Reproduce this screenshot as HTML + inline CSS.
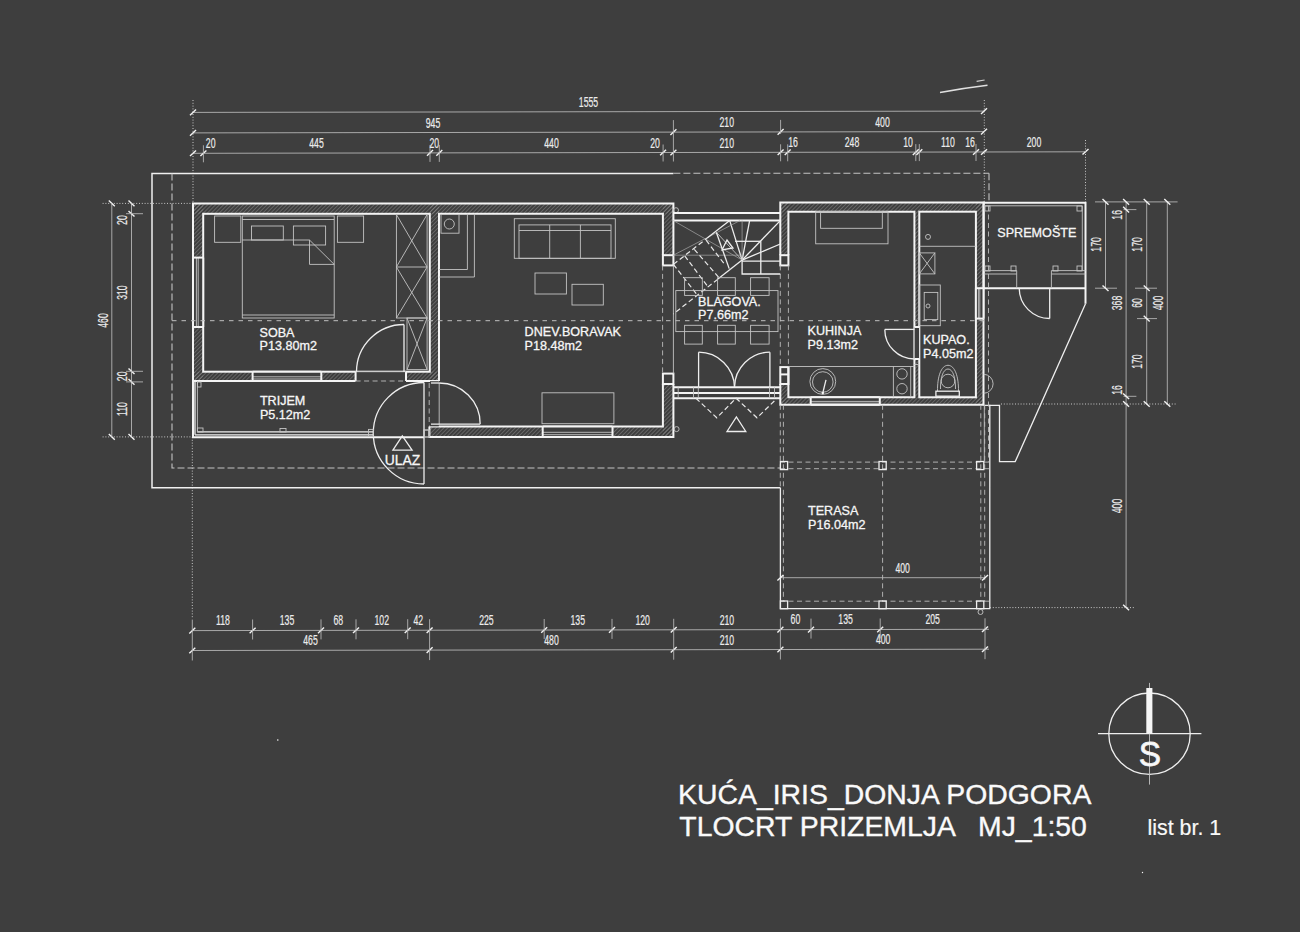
<!DOCTYPE html>
<html><head><meta charset="utf-8"><title>Tlocrt prizemlja</title><style>
html,body{margin:0;padding:0;background:#3e3e3e;}
svg{display:block;}
line,polyline,polygon,rect,path,circle{fill:none;}
.t{stroke:#c4c4c4;stroke-width:0.9;}
.t2{stroke:#a8a8a8;stroke-width:0.7;}
.w{stroke:#f4f4f4;stroke-width:2;}
.w1{stroke:#eeeeee;stroke-width:1.3;}
.w2{stroke:#f0f0f0;stroke-width:1.5;}
.d{stroke:#b4b4b4;stroke-width:0.9;}
.k{stroke:#f4f4f4;stroke-width:1.4;}
.ds{stroke:#c4c4c4;stroke-width:1.1;stroke-dasharray:7 3;}
.ds4{stroke:#c0c0c0;stroke-width:1;stroke-dasharray:4.5 5;}
.ds2{stroke:#bcbcbc;stroke-width:0.9;stroke-dasharray:5 3.5;}
.ds3{stroke:#e8e8e8;stroke-width:1.2;stroke-dasharray:5 3;}
.dt{stroke:#c8c8c8;stroke-width:1;stroke-dasharray:1 1.8;}
.scr{stroke:#e0e0e0;stroke-width:1.6;}
.scr2{stroke:#d0d0d0;stroke-width:1.2;}
.h{fill:url(#hatch);stroke:none;}
.bg{fill:#3e3e3e;stroke:none;}
.fill{fill:#f6f6f6;stroke:none;}
text{font-family:"Liberation Sans",sans-serif;fill:#fafafa;}
.dm{font-size:14.3px;text-anchor:middle;fill:#ececec;stroke:#ececec;stroke-width:0.2;}
.lb{font-size:12.6px;stroke:#f2f2f2;stroke-width:0.3;}
.lb2{font-size:13.9px;stroke:#f2f2f2;stroke-width:0.3;}
.ns{font-size:36px;stroke:#f2f2f2;stroke-width:0.8;}
.tt{font-size:28.4px;stroke:#fafafa;stroke-width:0.35;}
.ls{font-size:21.4px;stroke:#f2f2f2;stroke-width:0.2;}
</style></head>
<body><svg width="1300" height="932" viewBox="0 0 1300 932">
<defs><pattern id="hatch" patternUnits="userSpaceOnUse" width="2.8" height="2.8" patternTransform="rotate(45)">
<rect width="2.8" height="2.8" fill="#3e3e3e"/><line x1="0" y1="0" x2="0" y2="2.8" stroke="#a4a4a4" stroke-width="0.75"/></pattern></defs>
<rect width="1300" height="932" fill="#3e3e3e"/>
<line x1="193" y1="112.4" x2="984" y2="111.1" class="d"/>
<line x1="190" y1="115.2" x2="196" y2="109.6" class="k"/>
<line x1="981" y1="113.9" x2="987" y2="108.3" class="k"/>
<text class="dm" transform="translate(588.5,107) scale(0.61,1)">1555</text>
<line x1="193" y1="132.9" x2="984" y2="131.6" class="d"/>
<line x1="190" y1="135.7" x2="196" y2="130.1" class="k"/>
<line x1="670.4" y1="134.9" x2="676.4" y2="129.3" class="k"/>
<line x1="777.6" y1="134.7" x2="783.6" y2="129.1" class="k"/>
<line x1="981" y1="134.4" x2="987" y2="128.8" class="k"/>
<text class="dm" transform="translate(433,127.6) scale(0.61,1)">945</text>
<text class="dm" transform="translate(726.8,127.1) scale(0.61,1)">210</text>
<text class="dm" transform="translate(882.5,126.9) scale(0.61,1)">400</text>
<line x1="193" y1="153.3" x2="1085.5" y2="151.8" class="d"/>
<line x1="190" y1="156.1" x2="196" y2="150.5" class="k"/>
<line x1="200.4" y1="156.1" x2="206.4" y2="150.5" class="k"/>
<line x1="427" y1="155.7" x2="433" y2="150.1" class="k"/>
<line x1="436.3" y1="155.7" x2="442.3" y2="150.1" class="k"/>
<line x1="660.1" y1="155.3" x2="666.1" y2="149.7" class="k"/>
<line x1="670.4" y1="155.3" x2="676.4" y2="149.7" class="k"/>
<line x1="777.6" y1="155.1" x2="783.6" y2="149.5" class="k"/>
<line x1="784.7" y1="155.1" x2="790.7" y2="149.5" class="k"/>
<line x1="912.8" y1="154.9" x2="918.8" y2="149.3" class="k"/>
<line x1="916.3" y1="154.9" x2="922.3" y2="149.3" class="k"/>
<line x1="973" y1="154.8" x2="979" y2="149.2" class="k"/>
<line x1="981" y1="154.8" x2="987" y2="149.2" class="k"/>
<line x1="1082.5" y1="154.6" x2="1088.5" y2="149" class="k"/>
<line x1="203.4" y1="145.3" x2="203.4" y2="162.3" class="d"/>
<line x1="430" y1="144.9" x2="430" y2="161.9" class="d"/>
<line x1="439.3" y1="144.9" x2="439.3" y2="161.9" class="d"/>
<line x1="663.1" y1="144.5" x2="663.1" y2="161.5" class="d"/>
<line x1="780.6" y1="144.3" x2="780.6" y2="161.3" class="d"/>
<line x1="787.7" y1="144.3" x2="787.7" y2="161.3" class="d"/>
<line x1="915.8" y1="144.1" x2="915.8" y2="161.1" class="d"/>
<line x1="919.3" y1="144.1" x2="919.3" y2="161.1" class="d"/>
<line x1="976" y1="144" x2="976" y2="161" class="d"/>
<line x1="673.4" y1="120.1" x2="673.4" y2="161.5" class="d"/>
<line x1="780.6" y1="119.9" x2="780.6" y2="133.9" class="d"/>
<text class="dm" transform="translate(210.7,148.4) scale(0.61,1)">20</text>
<text class="dm" transform="translate(316.5,148.2) scale(0.61,1)">445</text>
<text class="dm" transform="translate(434.3,148) scale(0.61,1)">20</text>
<text class="dm" transform="translate(551.5,147.8) scale(0.61,1)">440</text>
<text class="dm" transform="translate(655,147.6) scale(0.61,1)">20</text>
<text class="dm" transform="translate(726.8,147.5) scale(0.61,1)">210</text>
<text class="dm" transform="translate(793,147.4) scale(0.61,1)">16</text>
<text class="dm" transform="translate(852,147.3) scale(0.61,1)">248</text>
<text class="dm" transform="translate(908,147.2) scale(0.61,1)">10</text>
<text class="dm" transform="translate(948,147.2) scale(0.61,1)">110</text>
<text class="dm" transform="translate(970,147.1) scale(0.61,1)">16</text>
<text class="dm" transform="translate(1034,147) scale(0.61,1)">200</text>
<line x1="193" y1="100" x2="193" y2="204" class="dt"/>
<line x1="984.3" y1="100" x2="984.3" y2="203" class="dt"/>
<line x1="1085.5" y1="140" x2="1085.5" y2="202" class="dt"/>
<path d="M940,92.5 Q965,88 987.5,85.3" class="scr"/>
<line x1="976.6" y1="81.4" x2="984.6" y2="80" class="scr2"/>
<line x1="111.8" y1="203.4" x2="111.8" y2="436.9" class="d"/>
<line x1="131.5" y1="203.4" x2="131.5" y2="436.9" class="d"/>
<line x1="108.8" y1="200.6" x2="114.8" y2="206.2" class="k"/>
<line x1="108.8" y1="434.1" x2="114.8" y2="439.7" class="k"/>
<line x1="128.5" y1="200.6" x2="134.5" y2="206.2" class="k"/>
<line x1="128.5" y1="210.9" x2="134.5" y2="216.5" class="k"/>
<line x1="128.5" y1="368.5" x2="134.5" y2="374.1" class="k"/>
<line x1="128.5" y1="379.1" x2="134.5" y2="384.7" class="k"/>
<line x1="128.5" y1="434.1" x2="134.5" y2="439.7" class="k"/>
<line x1="102.6" y1="203.4" x2="193" y2="203.4" class="dt"/>
<line x1="102.6" y1="436.9" x2="193" y2="436.9" class="dt"/>
<line x1="126" y1="213.7" x2="143" y2="213.7" class="d"/>
<line x1="126" y1="371.3" x2="143" y2="371.3" class="d"/>
<line x1="126" y1="381.9" x2="143" y2="381.9" class="d"/>
<text class="dm" transform="translate(107.5,320.5) rotate(-90) scale(0.61,1)">460</text>
<text class="dm" transform="translate(127.3,220.1) rotate(-90) scale(0.61,1)">20</text>
<text class="dm" transform="translate(127.3,292.6) rotate(-90) scale(0.61,1)">310</text>
<text class="dm" transform="translate(127.3,376.3) rotate(-90) scale(0.61,1)">20</text>
<text class="dm" transform="translate(127.3,409) rotate(-90) scale(0.61,1)">110</text>
<line x1="1105.5" y1="201.9" x2="1105.5" y2="288.2" class="d"/>
<line x1="1126.1" y1="201.9" x2="1126.1" y2="607.5" class="d"/>
<line x1="1123.1" y1="604.7" x2="1129.1" y2="610.3" class="k"/>
<text class="dm" transform="translate(1121.5,506) rotate(-90) scale(0.61,1)">400</text>
<line x1="1146.7" y1="201.9" x2="1146.7" y2="404" class="d"/>
<line x1="1167.3" y1="201.9" x2="1167.3" y2="404" class="d"/>
<line x1="1095" y1="201.9" x2="1177.6" y2="201.9" class="d"/>
<line x1="1095" y1="288.2" x2="1117" y2="288.2" class="d"/>
<line x1="1135" y1="288.2" x2="1157" y2="288.2" class="d"/>
<line x1="1123.5" y1="209.6" x2="1136.4" y2="209.6" class="d"/>
<line x1="1137" y1="318.6" x2="1157" y2="318.6" class="d"/>
<line x1="1123.5" y1="396.3" x2="1136.4" y2="396.3" class="d"/>
<line x1="1001" y1="404" x2="1177" y2="404" class="dt"/>
<line x1="1102.5" y1="199.1" x2="1108.5" y2="204.7" class="k"/>
<line x1="1123.1" y1="199.1" x2="1129.1" y2="204.7" class="k"/>
<line x1="1143.7" y1="199.1" x2="1149.7" y2="204.7" class="k"/>
<line x1="1164.3" y1="199.1" x2="1170.3" y2="204.7" class="k"/>
<line x1="1123.1" y1="206.8" x2="1129.1" y2="212.4" class="k"/>
<line x1="1102.5" y1="285.4" x2="1108.5" y2="291" class="k"/>
<line x1="1143.7" y1="285.4" x2="1149.7" y2="291" class="k"/>
<line x1="1143.7" y1="315.8" x2="1149.7" y2="321.4" class="k"/>
<line x1="1123.1" y1="393.5" x2="1129.1" y2="399.1" class="k"/>
<line x1="1123.1" y1="401.2" x2="1129.1" y2="406.8" class="k"/>
<line x1="1143.7" y1="401.2" x2="1149.7" y2="406.8" class="k"/>
<line x1="1164.3" y1="401.2" x2="1170.3" y2="406.8" class="k"/>
<text class="dm" transform="translate(1101,244.4) rotate(-90) scale(0.61,1)">170</text>
<text class="dm" transform="translate(1121.5,214.8) rotate(-90) scale(0.61,1)">16</text>
<text class="dm" transform="translate(1142,244.4) rotate(-90) scale(0.61,1)">170</text>
<text class="dm" transform="translate(1121.5,303) rotate(-90) scale(0.61,1)">368</text>
<text class="dm" transform="translate(1142,303) rotate(-90) scale(0.61,1)">60</text>
<text class="dm" transform="translate(1162.5,303) rotate(-90) scale(0.61,1)">400</text>
<text class="dm" transform="translate(1142,361.6) rotate(-90) scale(0.61,1)">170</text>
<text class="dm" transform="translate(1121.5,390) rotate(-90) scale(0.61,1)">16</text>
<line x1="192.3" y1="630.6" x2="989" y2="629.3" class="d"/>
<line x1="192.3" y1="650.5" x2="989" y2="649.2" class="d"/>
<line x1="249.6" y1="633.3" x2="255.6" y2="627.7" class="k"/>
<line x1="252.6" y1="619.5" x2="252.6" y2="639.5" class="d"/>
<line x1="318" y1="633.2" x2="324" y2="627.6" class="k"/>
<line x1="321" y1="619.4" x2="321" y2="639.4" class="d"/>
<line x1="353" y1="633.1" x2="359" y2="627.5" class="k"/>
<line x1="356" y1="619.3" x2="356" y2="639.3" class="d"/>
<line x1="404.7" y1="633" x2="410.7" y2="627.4" class="k"/>
<line x1="407.7" y1="619.2" x2="407.7" y2="639.2" class="d"/>
<line x1="541.2" y1="632.8" x2="547.2" y2="627.2" class="k"/>
<line x1="544.2" y1="619" x2="544.2" y2="639" class="d"/>
<line x1="609" y1="632.7" x2="615" y2="627.1" class="k"/>
<line x1="612" y1="618.9" x2="612" y2="638.9" class="d"/>
<line x1="808" y1="632.4" x2="814" y2="626.8" class="k"/>
<line x1="811" y1="618.6" x2="811" y2="638.6" class="d"/>
<line x1="877.2" y1="632.3" x2="883.2" y2="626.7" class="k"/>
<line x1="880.2" y1="618.5" x2="880.2" y2="638.5" class="d"/>
<line x1="189.3" y1="633.4" x2="195.3" y2="627.8" class="k"/>
<line x1="189.3" y1="653.3" x2="195.3" y2="647.7" class="k"/>
<line x1="192.3" y1="619.6" x2="192.3" y2="660.5" class="d"/>
<line x1="426.6" y1="633" x2="432.6" y2="627.4" class="k"/>
<line x1="426.6" y1="652.9" x2="432.6" y2="647.3" class="k"/>
<line x1="429.6" y1="619.2" x2="429.6" y2="660.1" class="d"/>
<line x1="670.7" y1="632.6" x2="676.7" y2="627" class="k"/>
<line x1="670.7" y1="652.5" x2="676.7" y2="646.9" class="k"/>
<line x1="673.7" y1="618.8" x2="673.7" y2="659.7" class="d"/>
<line x1="777.4" y1="632.4" x2="783.4" y2="626.8" class="k"/>
<line x1="777.4" y1="652.3" x2="783.4" y2="646.7" class="k"/>
<line x1="780.4" y1="618.6" x2="780.4" y2="659.5" class="d"/>
<line x1="982" y1="632.1" x2="988" y2="626.5" class="k"/>
<line x1="982" y1="652" x2="988" y2="646.4" class="k"/>
<line x1="985" y1="618.3" x2="985" y2="659.2" class="d"/>
<line x1="192.3" y1="437" x2="192.3" y2="618" class="dt"/>
<text class="dm" transform="translate(223,625.4) scale(0.61,1)">118</text>
<text class="dm" transform="translate(287,625.2) scale(0.61,1)">135</text>
<text class="dm" transform="translate(338.3,625.2) scale(0.61,1)">68</text>
<text class="dm" transform="translate(381.8,625.1) scale(0.61,1)">102</text>
<text class="dm" transform="translate(418.3,625) scale(0.61,1)">42</text>
<text class="dm" transform="translate(486.4,624.9) scale(0.61,1)">225</text>
<text class="dm" transform="translate(577.8,624.8) scale(0.61,1)">135</text>
<text class="dm" transform="translate(642.7,624.7) scale(0.61,1)">120</text>
<text class="dm" transform="translate(726.9,624.5) scale(0.61,1)">210</text>
<text class="dm" transform="translate(795.4,624.4) scale(0.61,1)">60</text>
<text class="dm" transform="translate(845.6,624.3) scale(0.61,1)">135</text>
<text class="dm" transform="translate(932.7,624.2) scale(0.61,1)">205</text>
<text class="dm" transform="translate(310.5,645.2) scale(0.61,1)">465</text>
<text class="dm" transform="translate(551.5,644.8) scale(0.61,1)">480</text>
<text class="dm" transform="translate(726.9,644.5) scale(0.61,1)">210</text>
<text class="dm" transform="translate(883.2,644.3) scale(0.61,1)">400</text>
<polyline points="673.4,173.5 152,173.5 152,487.7 780.4,487.7" class="w2"/>
<line x1="673.4" y1="173.2" x2="989" y2="173.2" class="ds"/>
<line x1="989" y1="173.2" x2="989" y2="202" class="ds"/>
<polyline points="172,173.5 172,468 780,468" class="ds"/>
<rect x="193" y="203.5" width="480.4" height="10.3" class="h"/>
<rect x="193" y="203.5" width="10.2" height="177.5" class="h"/>
<rect x="193" y="371.7" width="246" height="9.3" class="h"/>
<rect x="429.8" y="203.5" width="9.2" height="177.5" class="h"/>
<rect x="429.4" y="426.5" width="244" height="10.5" class="h"/>
<rect x="662.9" y="203.5" width="10.5" height="51.7" class="h"/>
<rect x="662.9" y="384" width="10.5" height="53" class="h"/>
<rect x="780.3" y="202.5" width="203.2" height="9.2" class="h"/>
<rect x="780.3" y="202.5" width="8.1" height="52.7" class="h"/>
<rect x="780.3" y="384" width="8.1" height="20.8" class="h"/>
<rect x="780.3" y="397.3" width="203.2" height="7.5" class="h"/>
<rect x="914.4" y="211.7" width="4.9" height="115.3" class="h"/>
<rect x="914.4" y="360" width="4.9" height="37.3" class="h"/>
<rect x="975.9" y="202.5" width="7.6" height="202.3" class="h"/>
<polyline points="193,381 193,203.5 673.4,203.5 673.4,255.2" class="w"/>
<rect x="203.2" y="213.8" width="226.6" height="157.9" class="w"/>
<polyline points="439,381 439,213.8 662.9,213.8 662.9,255.2" class="w"/>
<polyline points="662.9,384 662.9,426.5 429.4,426.5" class="w"/>
<line x1="193" y1="381" x2="355.6" y2="381" class="w"/>
<line x1="406" y1="381" x2="439" y2="381" class="w"/>
<polyline points="429.4,426.5 429.4,437 673.4,437 673.4,384" class="w"/>
<rect x="662.9" y="255.2" width="10.5" height="10.2" class="w"/>
<rect x="662.9" y="373.6" width="10.5" height="10.4" class="w"/>
<polyline points="780.3,255.2 780.3,202.5 983.5,202.5 983.5,404.8 780.3,404.8 780.3,384" class="w"/>
<polyline points="788.4,255.2 788.4,211.7 914.4,211.7 914.4,397.3 788.4,397.3 788.4,367.1" class="w"/>
<rect x="919.3" y="211.7" width="56.6" height="185.6" class="w"/>
<rect x="780.3" y="255.2" width="8.1" height="10.2" class="w"/>
<rect x="780.3" y="367.1" width="8.1" height="16.9" class="w"/>
<line x1="780.3" y1="374.4" x2="788.4" y2="374.4" class="w"/>
<rect x="193" y="257.6" width="10.2" height="69.4" class="bg"/>
<line x1="196.4" y1="257.6" x2="196.4" y2="327" class="t"/>
<line x1="198.2" y1="257.6" x2="198.2" y2="327" class="t"/>
<line x1="193" y1="257.6" x2="203.2" y2="257.6" class="w"/>
<line x1="193" y1="327" x2="203.2" y2="327" class="w"/>
<line x1="193" y1="257.6" x2="193" y2="327" class="w"/>
<line x1="203.2" y1="257.6" x2="203.2" y2="327" class="w"/>
<rect x="252.6" y="371.7" width="68.7" height="9.3" class="bg"/>
<line x1="252.6" y1="376.8" x2="321.3" y2="376.8" class="t"/>
<line x1="252.6" y1="379" x2="321.3" y2="379" class="t"/>
<line x1="252.6" y1="371.7" x2="321.3" y2="371.7" class="w"/>
<line x1="252.6" y1="381" x2="321.3" y2="381" class="w"/>
<line x1="252.6" y1="371.7" x2="252.6" y2="381" class="w"/>
<line x1="321.3" y1="371.7" x2="321.3" y2="381" class="w"/>
<rect x="542.7" y="426.5" width="69.8" height="10.5" class="bg"/>
<line x1="542.7" y1="432.3" x2="612.5" y2="432.3" class="t"/>
<line x1="542.7" y1="434.7" x2="612.5" y2="434.7" class="t"/>
<line x1="542.7" y1="426.5" x2="612.5" y2="426.5" class="w"/>
<line x1="542.7" y1="437" x2="612.5" y2="437" class="w"/>
<line x1="542.7" y1="426.5" x2="542.7" y2="437" class="w"/>
<line x1="612.5" y1="426.5" x2="612.5" y2="437" class="w"/>
<rect x="810.7" y="397.3" width="69.1" height="7.5" class="bg"/>
<line x1="810.7" y1="401.4" x2="879.8" y2="401.4" class="t"/>
<line x1="810.7" y1="403.2" x2="879.8" y2="403.2" class="t"/>
<line x1="810.7" y1="397.3" x2="879.8" y2="397.3" class="w"/>
<line x1="810.7" y1="404.8" x2="879.8" y2="404.8" class="w"/>
<line x1="810.7" y1="397.3" x2="810.7" y2="404.8" class="w"/>
<line x1="879.8" y1="397.3" x2="879.8" y2="404.8" class="w"/>
<rect x="975.9" y="288.2" width="7.6" height="30.4" class="bg"/>
<line x1="978.4" y1="288.2" x2="978.4" y2="318.6" class="t"/>
<line x1="979.8" y1="288.2" x2="979.8" y2="318.6" class="t"/>
<line x1="975.9" y1="288.2" x2="983.5" y2="288.2" class="w"/>
<line x1="975.9" y1="318.6" x2="983.5" y2="318.6" class="w"/>
<line x1="975.9" y1="288.2" x2="975.9" y2="318.6" class="w"/>
<line x1="983.5" y1="288.2" x2="983.5" y2="318.6" class="w"/>
<rect x="355.6" y="371.9" width="50.4" height="8.9" class="bg"/>
<line x1="355.6" y1="371.7" x2="355.6" y2="381" class="w"/>
<line x1="406" y1="371.7" x2="406" y2="381" class="w"/>
<line x1="355.6" y1="371.7" x2="406" y2="371.7" class="t"/>
<line x1="355.6" y1="381" x2="406" y2="381" class="ds2"/>
<line x1="404" y1="324.5" x2="404" y2="371.7" class="w1"/>
<path d="M404,324.5 A47.5,47.5 0 0 0 356.5,371.7" class="w1"/>
<rect x="430" y="381.2" width="8.8" height="45.1" class="bg"/>
<line x1="439.2" y1="383" x2="439.2" y2="424.4" class="t"/>
<line x1="431" y1="424.2" x2="480" y2="424.2" class="w1"/>
<line x1="431" y1="383" x2="439.2" y2="383" class="w1"/>
<path d="M439.2,383 A41,41 0 0 1 480.2,424.2" class="w1"/>
<line x1="429.2" y1="383" x2="429.2" y2="424" class="ds2"/>
<rect x="424" y="430" width="5" height="7" class="t"/>
<line x1="424" y1="382.5" x2="424" y2="484" class="w1"/>
<path d="M424,382.5 A50.75,50.75 0 0 0 424,484" class="w1"/>
<line x1="195" y1="381" x2="195" y2="434.8" class="w1"/>
<line x1="197.4" y1="381" x2="197.4" y2="431.9" class="t"/>
<polyline points="193,381 193,437.2 424,437.2" class="w"/>
<line x1="195" y1="434.8" x2="373" y2="434.8" class="w1"/>
<line x1="197.4" y1="431.9" x2="373" y2="431.9" class="w1"/>
<rect x="368.5" y="429.4" width="4.8" height="7.1" class="t"/>
<rect x="197.4" y="382" width="3.6" height="5" class="t"/>
<rect x="197.4" y="428" width="5.6" height="4" class="t"/>
<rect x="280" y="428.5" width="6" height="3.5" class="t"/>
<rect x="424" y="430" width="5.4" height="7" class="t"/>
<polygon points="392.9,450.1 402.3,435.9 412.1,450.1" class="w1"/>
<rect x="914.6" y="327" width="4.5" height="32" class="bg"/>
<line x1="914.4" y1="327" x2="919.3" y2="327" class="w"/>
<line x1="914.4" y1="359" x2="919.3" y2="359" class="w"/>
<line x1="914.4" y1="364.5" x2="919.3" y2="364.5" class="t"/>
<line x1="884.8" y1="329.4" x2="914.4" y2="329.4" class="w1"/>
<path d="M884.8,329.4 A29.6,29.6 0 0 0 914.4,359" class="w1"/>
<line x1="673.4" y1="387.3" x2="780.3" y2="387.3" class="w"/>
<line x1="673.4" y1="392.9" x2="780.3" y2="392.9" class="w"/>
<line x1="673.4" y1="398.2" x2="780.3" y2="398.2" class="w"/>
<line x1="698.6" y1="352.2" x2="698.6" y2="387.3" class="w1"/>
<path d="M698.6,352.2 A35.9,35.9 0 0 1 734.5,387.3" class="w1"/>
<line x1="769.9" y1="352.2" x2="769.9" y2="387.3" class="w1"/>
<path d="M769.9,352.2 A35.4,35.4 0 0 0 734.5,387.3" class="w1"/>
<line x1="678.2" y1="387.3" x2="678.2" y2="398.2" class="t"/>
<line x1="693.5" y1="387.3" x2="693.5" y2="398.2" class="t"/>
<line x1="698.3" y1="387.3" x2="698.3" y2="398.2" class="t"/>
<line x1="769.5" y1="387.3" x2="769.5" y2="398.2" class="t"/>
<line x1="774.5" y1="387.3" x2="774.5" y2="398.2" class="t"/>
<polyline points="695.9,398.2 716.8,417.8 736.1,398.2 757,417.8 777.2,398.2" class="ds3"/>
<polygon points="727,431.5 736.4,417 745.8,431.5" class="w1"/>
<circle cx="676.6" cy="429.1" r="2.5" class="t"/>
<circle cx="676" cy="210.2" r="2.5" class="t"/>
<circle cx="277.8" cy="740" r="0.8" class="fill"/>
<circle cx="1142.5" cy="872.5" r="0.7" class="fill"/>
<line x1="662.6" y1="265.4" x2="662.6" y2="373.6" class="ds2"/>
<line x1="673.4" y1="265.4" x2="673.4" y2="373.6" class="t"/>
<line x1="780.3" y1="265.4" x2="780.3" y2="367.1" class="ds2"/>
<line x1="788.4" y1="265.4" x2="788.4" y2="367.1" class="ds2"/>
<line x1="780.3" y1="404.8" x2="780.3" y2="487.7" class="ds2"/>
<rect x="214.6" y="216" width="26.2" height="26.3" class="t"/>
<rect x="337.4" y="216" width="26.2" height="26.3" class="t"/>
<rect x="242.3" y="216" width="91.9" height="102" class="t"/>
<line x1="242.3" y1="219.5" x2="334.2" y2="219.5" class="t"/>
<line x1="242.3" y1="315" x2="334.2" y2="315" class="t"/>
<rect x="251.5" y="226" width="31.8" height="14" class="t"/>
<rect x="293.4" y="226" width="32.2" height="19" class="t"/>
<line x1="242.3" y1="240" x2="309.5" y2="240" class="t"/>
<polyline points="309.5,240 309.5,264.4 334.2,264.4" class="t"/>
<line x1="309.5" y1="240" x2="334.2" y2="264.4" class="t"/>
<rect x="396.4" y="214.5" width="30.7" height="103.5" class="t"/>
<line x1="396.4" y1="267" x2="427.1" y2="267" class="t"/>
<line x1="396.4" y1="214.5" x2="427.1" y2="267" class="t"/>
<line x1="427.1" y1="214.5" x2="396.4" y2="267" class="t"/>
<line x1="396.4" y1="267" x2="427.1" y2="318" class="t"/>
<line x1="427.1" y1="267" x2="396.4" y2="318" class="t"/>
<rect x="407" y="318" width="20.1" height="51.6" class="t"/>
<line x1="407" y1="318" x2="427.1" y2="369.6" class="t"/>
<line x1="427.1" y1="318" x2="407" y2="369.6" class="t"/>
<rect x="441" y="214.5" width="18" height="18.7" class="t"/>
<circle cx="449.3" cy="224" r="5" class="t"/>
<polyline points="439,269.5 467.4,269.5 467.4,213.8" class="t"/>
<polyline points="439,277 474.4,277 474.4,213.8" class="t"/>
<rect x="514.3" y="218.7" width="101" height="39.6" class="t"/>
<rect x="519" y="224.9" width="92" height="33.4" class="t"/>
<line x1="519" y1="230.5" x2="611" y2="230.5" class="t"/>
<line x1="549.7" y1="224.9" x2="549.7" y2="258.3" class="t"/>
<line x1="580.4" y1="224.9" x2="580.4" y2="258.3" class="t"/>
<rect x="535" y="273" width="31.4" height="21" class="t"/>
<rect x="572" y="284.3" width="31.3" height="20.7" class="t"/>
<rect x="542" y="392.8" width="71.9" height="30.9" class="t"/>
<line x1="673.4" y1="213.1" x2="780.3" y2="213.1" class="w"/>
<line x1="673.4" y1="220.6" x2="780.3" y2="220.6" class="w"/>
<line x1="742.1" y1="260.1" x2="729.7" y2="220.6" class="w1"/>
<line x1="742.1" y1="260.1" x2="749.6" y2="220.6" class="w1"/>
<line x1="742.1" y1="260.1" x2="780.3" y2="220.6" class="w1"/>
<line x1="742.1" y1="260.1" x2="780.3" y2="244" class="w1"/>
<line x1="742.1" y1="220.6" x2="742.1" y2="260.1" class="t2"/>
<line x1="673.4" y1="220.6" x2="742.1" y2="260.1" class="t2"/>
<line x1="673.4" y1="255.2" x2="739.9" y2="220.6" class="t2"/>
<line x1="673.4" y1="255.2" x2="742" y2="255.2" class="t2"/>
<line x1="707.2" y1="238.1" x2="729.7" y2="220.6" class="w1"/>
<line x1="673.4" y1="264.4" x2="707.2" y2="238.1" class="ds3"/>
<line x1="742.1" y1="260.1" x2="717.9" y2="279.1" class="w1"/>
<line x1="673.4" y1="264.4" x2="697.4" y2="295.1" class="ds3"/>
<line x1="684.7" y1="255.8" x2="707.2" y2="285.8" class="ds3"/>
<line x1="694.3" y1="249.3" x2="718.5" y2="277.2" class="ds3"/>
<line x1="706.1" y1="240.2" x2="725.4" y2="265.4" class="ds3"/>
<line x1="716.3" y1="232.2" x2="729.2" y2="268.6" class="w1"/>
<line x1="716.3" y1="232.2" x2="742.1" y2="260.1" class="t"/>
<line x1="717.9" y1="279.1" x2="673.3" y2="314" class="ds3"/>
<polyline points="742.1,260.1 742.1,274 780.3,274" class="w1"/>
<line x1="742.1" y1="261.1" x2="780.3" y2="261.1" class="w1"/>
<line x1="760.8" y1="241.3" x2="760.8" y2="274" class="w1"/>
<line x1="735.1" y1="241.3" x2="760.8" y2="241.3" class="w1"/>
<polygon points="722,250 727,240 733,248" class="w1"/>
<rect x="675.8" y="290.6" width="102.2" height="41" class="t"/>
<rect x="684.6" y="277.7" width="17.7" height="17.7" class="t"/>
<rect x="684.6" y="325.3" width="17.7" height="18.8" class="t"/>
<rect x="717.6" y="277.7" width="17.7" height="17.7" class="t"/>
<rect x="717.6" y="325.3" width="17.7" height="18.8" class="t"/>
<rect x="750.6" y="277.7" width="18.5" height="17.7" class="t"/>
<rect x="750.6" y="325.3" width="18.5" height="18.8" class="t"/>
<rect x="815.7" y="211.7" width="72.3" height="32.1" class="t"/>
<rect x="820.6" y="211.7" width="61.7" height="16.6" class="t"/>
<line x1="788.4" y1="366.5" x2="914.4" y2="366.5" class="t"/>
<line x1="893.4" y1="366.5" x2="893.4" y2="397.3" class="t"/>
<line x1="910.7" y1="366.5" x2="910.7" y2="397.3" class="t"/>
<circle cx="822.8" cy="381.5" r="12.9" class="t"/>
<circle cx="822.8" cy="382" r="10.3" class="t"/>
<line x1="826" y1="379.9" x2="822.8" y2="392.8" class="w1"/>
<circle cx="822.8" cy="393" r="1.2" class="fill"/>
<circle cx="902" cy="373.9" r="5.2" class="t"/>
<circle cx="902" cy="388.7" r="5.2" class="t"/>
<line x1="919.3" y1="246.3" x2="975.9" y2="246.3" class="t"/>
<circle cx="928" cy="236.9" r="2.5" class="t"/>
<rect x="919.3" y="252.9" width="15.6" height="21" class="t"/>
<line x1="919.3" y1="252.9" x2="934.9" y2="273.9" class="t"/>
<line x1="934.9" y1="252.9" x2="919.3" y2="273.9" class="t"/>
<rect x="919.3" y="285" width="21" height="40.7" class="t"/>
<rect x="924.2" y="292.4" width="13.6" height="27.2" class="t"/>
<circle cx="928" cy="306" r="2" class="t"/>
<path d="M937.5,391.2 C937.3,377 941,365.3 948,365.3 C955,365.3 958.7,377 958.5,391.2" class="t"/>
<path d="M940.5,389 C940.3,378 943,369 948,369 C953,369 955.7,378 955.5,389" class="t"/>
<circle cx="948" cy="381" r="6.8" class="t"/>
<rect x="935.9" y="391.2" width="23.4" height="5" class="w1"/>
<path d="M983.6,374.3 A9.5,9.5 0 0 1 983.6,393.3" class="t"/>
<polyline points="983.7,288.2 983.7,202.7 1085.5,202.7 1085.5,303.8" class="w"/>
<line x1="983.7" y1="205.8" x2="1082.3" y2="205.8" class="t"/>
<line x1="1082.3" y1="205.8" x2="1082.3" y2="270.6" class="t"/>
<line x1="983.7" y1="288.2" x2="1085.5" y2="288.2" class="w"/>
<line x1="983.7" y1="270.6" x2="1016.7" y2="270.6" class="t"/>
<line x1="983.7" y1="274" x2="1016.7" y2="274" class="t"/>
<line x1="1016.7" y1="270.6" x2="1016.7" y2="288.2" class="t"/>
<line x1="1051.4" y1="270.6" x2="1085.5" y2="270.6" class="t"/>
<line x1="1051.4" y1="274" x2="1085.5" y2="274" class="t"/>
<line x1="1051.4" y1="270.6" x2="1051.4" y2="288.2" class="t"/>
<rect x="985" y="206" width="5" height="5" class="t"/>
<rect x="1077" y="206" width="5" height="5" class="t"/>
<rect x="985" y="266" width="5" height="5" class="t"/>
<rect x="1011" y="266" width="5" height="5" class="t"/>
<rect x="1053" y="266" width="5" height="5" class="t"/>
<rect x="1077" y="266" width="5" height="5" class="t"/>
<line x1="1049.7" y1="288.2" x2="1049.7" y2="318.5" class="w1"/>
<path d="M1049.7,318.5 A30.5,30.5 0 0 1 1019.2,288.2" class="w1"/>
<polyline points="1085.5,303.8 1015.2,461.6 999.5,461.6 999.5,405.3 983.5,405.3" class="w1"/>
<line x1="988.5" y1="206" x2="988.5" y2="461.5" class="ds2"/>
<line x1="984.3" y1="404.8" x2="984.3" y2="461.5" class="t"/>
<polyline points="780.4,487.7 780.4,608.7 989.8,608.7 989.8,404.8" class="w1"/>
<line x1="783.4" y1="404.8" x2="783.4" y2="601.2" class="ds2"/>
<line x1="882.6" y1="404.8" x2="882.6" y2="601.2" class="ds2"/>
<line x1="980.8" y1="404.8" x2="980.8" y2="601.2" class="ds2"/>
<line x1="984.7" y1="404.8" x2="984.7" y2="601.2" class="ds2"/>
<line x1="780" y1="462.1" x2="989.8" y2="462.1" class="ds2"/>
<line x1="780" y1="468.7" x2="989.8" y2="468.7" class="ds2"/>
<line x1="780" y1="601.2" x2="989.8" y2="601.2" class="ds2"/>
<rect x="780.4" y="461.5" width="7.2" height="8.1" class="w1"/>
<rect x="780.4" y="601" width="7.2" height="7.7" class="w1"/>
<rect x="879" y="461.5" width="7.2" height="8.1" class="w1"/>
<rect x="879" y="601" width="7.2" height="7.7" class="w1"/>
<rect x="976.6" y="461.5" width="7.2" height="8.1" class="w1"/>
<rect x="976.6" y="601" width="7.2" height="7.7" class="w1"/>
<line x1="990" y1="607.6" x2="1135" y2="607.6" class="dt"/>
<circle cx="980.5" cy="612" r="2.5" class="t"/>
<line x1="780.4" y1="577.7" x2="985" y2="577.7" class="d"/>
<line x1="777.4" y1="580.5" x2="783.4" y2="574.9" class="k"/>
<line x1="982" y1="580.5" x2="988" y2="574.9" class="k"/>
<text class="dm" transform="translate(902.7,573) scale(0.61,1)">400</text>
<line x1="172" y1="320.7" x2="985" y2="320.7" class="ds4"/>
<text class="lb" x="259.5" y="336.5">SOBA</text>
<text class="lb" x="259.5" y="350.2">P13.80m2</text>
<text class="lb" x="259.9" y="405.1">TRIJEM</text>
<text class="lb" x="259.9" y="418.9">P5.12m2</text>
<text class="lb" x="524.6" y="335.6">DNEV.BORAVAK</text>
<text class="lb" x="524.6" y="349.6">P18.48m2</text>
<text class="lb" x="698" y="305.6">BLAGOVA.</text>
<text class="lb" x="698" y="319.4">P7.66m2</text>
<text class="lb" x="807.5" y="335">KUHINJA</text>
<text class="lb" x="807.5" y="349">P9.13m2</text>
<text class="lb" x="923" y="343.6">KUPAO.</text>
<text class="lb" x="923" y="357.6">P4.05m2</text>
<text class="lb" x="808" y="515.3">TERASA</text>
<text class="lb" x="808" y="529.4">P16.04m2</text>
<text class="lb" x="997.3" y="236.5">SPREMOŠTE</text>
<text class="lb2" x="384.8" y="465">ULAZ</text>
<circle cx="1149.5" cy="733.7" r="40.7" class="w1"/>
<line x1="1098" y1="733.7" x2="1201.4" y2="733.7" class="w1"/>
<line x1="1149.5" y1="682.9" x2="1149.5" y2="784.6" class="t"/>
<rect x="1146.3" y="688" width="6.1" height="45.7" class="fill"/>
<text class="ns" transform="translate(1150,766.3) scale(0.93,1)" text-anchor="middle">S</text>
<text class="tt" x="678" y="803.8">KUĆA_IRIS_DONJA PODGORA</text>
<text class="tt" x="679.3" y="836.2" xml:space="preserve">TLOCRT PRIZEMLJA   MJ_1:50</text>
<text class="ls" x="1147.5" y="835">list br. 1</text>
</svg></body></html>
